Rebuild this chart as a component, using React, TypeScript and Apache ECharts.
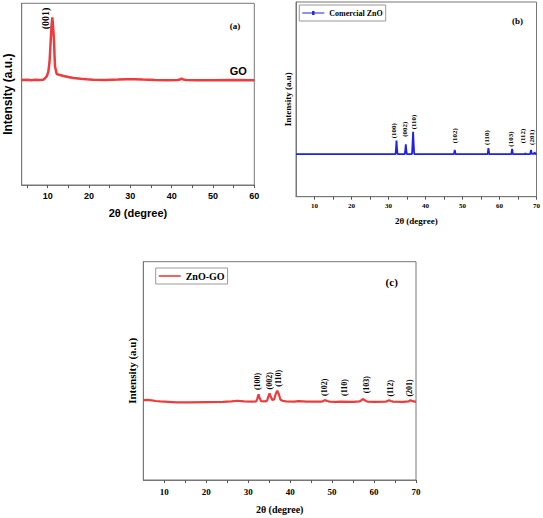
import React, { useEffect, useRef } from "react";
import * as echarts from "echarts";

// ---------- data ----------
const goData: [number, number][] = [
  [3.7, 57.8], [5, 57.9], [6, 57.7], [7, 57.9], [8, 57.8], [8.9, 57.9], [9.35, 58.7], [9.8, 60.0],
  [10.15, 62.4], [10.45, 68], [10.73, 79.8], [10.95, 88.5], [11.11, 92.3], [11.3, 87], [11.52, 79.8],
  [11.65, 71], [11.77, 65.1], [12.18, 61.1], [13.0, 60.5], [13.78, 60.0], [15, 59.4], [16.2, 58.9],
  [18, 58.5], [19.4, 58.2], [21, 57.9], [24, 57.8], [27, 58.0], [29, 58.2], [31, 58.2], [33, 58.0],
  [36, 57.8], [39, 57.7], [41.5, 57.8], [42.1, 58.2], [42.4, 58.5], [42.8, 58.1], [43.5, 57.8],
  [46, 57.7], [50, 57.7], [55, 57.8], [60, 57.7],
];

const znoData: [number, number][] = [
  [5, 21.9], [31.9, 21.9], [32.05, 25.0], [32.16, 28.8], [32.3, 24.5], [32.45, 21.9],
  [34.4, 21.9], [34.55, 24.2], [34.68, 26.9], [34.8, 24.0], [34.95, 21.9],
  [36.35, 21.9], [36.5, 27.0], [36.65, 33.4], [36.8, 27.0], [36.95, 21.9],
  [47.7, 21.9], [47.82, 23.2], [47.9, 24.0], [48.0, 23.2], [48.1, 21.9],
  [56.8, 21.9], [56.92, 23.8], [57.0, 24.9], [57.1, 23.8], [57.2, 21.9],
  [63.2, 21.9], [63.32, 23.6], [63.4, 24.5], [63.5, 23.6], [63.6, 21.9],
  [66.9, 21.9], [67.0, 22.4], [67.1, 21.9],
  [68.3, 21.9], [68.42, 23.3], [68.5, 24.0], [68.6, 23.3], [68.75, 22.0],
  [69.35, 22.0], [69.45, 22.8], [69.5, 23.0], [69.6, 22.7], [69.75, 21.9], [70, 21.9],
];

const znoGoData: [number, number][] = [
  [5, 36.6], [6, 36.7], [7, 36.5], [8, 36.2], [9, 36.0], [11, 35.8], [13, 35.6], [16, 35.6],
  [20, 35.7], [24, 35.8], [26, 36.0], [27.5, 36.3], [29, 36.0], [31, 35.9], [31.9, 36.0],
  [32.2, 37.4], [32.47, 39.3], [32.75, 37.4], [33.1, 36.1], [34.0, 36.0], [34.5, 36.3],
  [34.8, 38.2], [35.1, 39.7], [35.4, 38.0], [35.8, 36.6], [36.2, 37.0], [36.6, 39.6],
  [36.94, 40.9], [37.3, 39.3], [37.7, 36.8], [38.2, 36.3], [39, 36.0], [41, 35.9], [42, 36.1],
  [44, 35.9], [47.6, 35.9], [48.0, 36.3], [48.4, 36.6], [48.8, 36.2], [49.4, 35.9], [51, 35.8],
  [52, 35.9], [55, 35.8], [56.6, 36.0], [57.0, 36.6], [57.4, 37.1], [57.8, 36.5], [58.4, 35.9],
  [60, 35.8], [62.8, 35.9], [63.2, 36.2], [63.6, 36.5], [64.0, 36.2], [64.5, 35.9], [67, 35.8],
  [68.2, 36.0], [68.7, 36.5], [69.2, 36.1], [70, 35.8],
];

// peak annotations (label anchor = bottom of the rotated text)
const aPeakNames = ["(001)"];
const aPeakX = [9.5];
const aPeakY = [85.7];

const bPeakNames = ["(100)", "(002)", "(110)", "(102)", "(110)", "(103)", "(112)", "(201)"];
const bPeakX = [31.5, 34.4, 36.9, 47.9, 56.6, 63.1, 66.4, 68.9];
const bPeakY = [30.0, 30.8, 34.6, 27.4, 26.6, 25.7, 27.4, 26.6];

const cPeakNames = ["(100)", "(002)", "(110)", "(102)", "(110)", "(103)", "(112)", "(201)"];
const cPeakX = [32.3, 35.1, 37.3, 48.25, 52.9, 58.2, 64.0, 68.4];
const cPeakY = [41.2, 41.5, 42.7, 38.5, 38.5, 39.7, 38.2, 38.2];

// ticks
const aTickLabels = [10, 20, 30, 40, 50, 60];
const aTicks = [5, 10, 15, 20, 25, 30, 35, 40, 45, 50, 55, 60];
const bcTickLabels = [10, 20, 30, 40, 50, 60, 70];
const bcTicks = [10, 15, 20, 25, 30, 35, 40, 45, 50, 55, 60, 65, 70];

const SANS = "Liberation Sans";
const SERIF = "Liberation Serif";
const RED = "#ee3b3b";
const BLUE = "#1f22e6";
const AXIS = "#777";

const LINE_ICON = "path://M0,0 L22,0 L22,1.6 L0,1.6 Z";
const DOT_LINE_ICON =
  "path://M0,1.3 L9.8,1.3 L9.8,0 L12.2,0 L12.2,1.3 L22,1.3 L22,2.5 L12.2,2.5 L12.2,3.8 L9.8,3.8 L9.8,2.5 L0,2.5 Z";

function xAxisFor(
  gridIndex: number, min: number, max: number, labels: number[], ticks: number[],
  font: string, labelSize: number, nameSize: number, nameGap: number, margin: number
) {
  return {
    type: "value", gridIndex, min, max,
    name: "2θ (degree)", nameLocation: "middle", nameGap,
    nameTextStyle: { fontFamily: font, fontWeight: "bold", fontSize: nameSize, color: "#000" },
    axisLine: { show: true, onZero: false, lineStyle: { color: AXIS, width: 1 } },
    axisTick: { show: true, length: 3, customValues: ticks, lineStyle: { color: "#555" } },
    axisLabel: { customValues: labels, margin, fontFamily: font, fontWeight: "bold", fontSize: labelSize, color: "#000" },
    splitLine: { show: false },
  };
}

function yAxisFor(gridIndex: number, name: string, font: string, nameSize: number, nameGap: number) {
  return {
    type: "value", gridIndex, min: 0, max: 100,
    name, nameLocation: "middle", nameGap, nameRotate: 90,
    nameTextStyle: { fontFamily: font, fontWeight: "bold", fontSize: nameSize, color: "#000" },
    axisLine: { show: true, lineStyle: { color: AXIS, width: 1 } },
    axisTick: { show: false }, axisLabel: { show: false }, splitLine: { show: false },
  };
}

function peakLabels(idx: number, names: string[], xs: number[], ys: number[], size: number) {
  return {
    type: "custom", xAxisIndex: idx, yAxisIndex: idx, silent: true,
    data: names.map((n, i) => [xs[i], ys[i]]),
    renderItem: (params: any, api: any) => {
      const p = api.coord([api.value(0), api.value(1)]);
      return {
        type: "text", x: p[0], y: p[1], rotation: Math.PI / 2,
        style: {
          text: names[params.dataIndex], font: `bold ${size}px "${SERIF}"`, fill: "#000",
          align: "left", verticalAlign: "middle",
        },
      };
    },
  };
}

function textEl(text: string, x: number, y: number, font: string) {
  return {
    type: "text", x, y, silent: true,
    style: { text, font, fill: "#000", align: "center", verticalAlign: "middle", textAlign: "center", textVerticalAlign: "middle" },
  };
}

export default function App() {
  const ref = useRef<HTMLDivElement>(null);
  useEffect(() => {
    if (!ref.current) return;
    const chart = echarts.init(ref.current, null, { renderer: "svg" });
    const gridBase = { show: true, borderColor: AXIS, borderWidth: 1, backgroundColor: "transparent", containLabel: false };
    chart.setOption({
      animation: false,
      backgroundColor: "#fff",
      grid: [
        { ...gridBase, left: 21.7, top: 3.3, width: 232.6, height: 181.7 },
        { ...gridBase, left: 296, top: 2, width: 240.7, height: 194.7 },
        { ...gridBase, left: 143.3, top: 261.7, width: 272.7, height: 218.3 },
      ],
      xAxis: [
        xAxisFor(0, 3.7, 60, aTickLabels, aTicks, SANS, 9, 11, 22, 6),
        xAxisFor(1, 5, 70, bcTickLabels, bcTicks, SERIF, 7, 9, 20, 6),
        xAxisFor(2, 5, 70, bcTickLabels, bcTicks, SERIF, 9, 10, 24, 7),
      ],
      yAxis: [
        yAxisFor(0, "Intensity (a.u.)", SANS, 12, 8),
        yAxisFor(1, "Intensity (a.u)", SERIF, 9, 4),
        yAxisFor(2, "Intensity (a.u)", SERIF, 11, 6),
      ],
      legend: [
        {
          data: [{ name: "Comercial ZnO", icon: DOT_LINE_ICON }], left: 299.3, top: 5, padding: [4, 3],
          itemWidth: 22, itemHeight: 4, borderColor: "#999", borderWidth: 1,
          textStyle: { fontFamily: SERIF, fontWeight: "bold", fontSize: 8, color: "#000" },
        },
        {
          data: [{ name: "ZnO-GO", icon: LINE_ICON }], left: 155.7, top: 268, padding: [3, 3],
          itemWidth: 22, itemHeight: 2, borderColor: "#999", borderWidth: 1,
          textStyle: { fontFamily: SERIF, fontWeight: "bold", fontSize: 10, color: "#000" },
        },
      ],
      series: [
        {
          type: "line", name: "GO", xAxisIndex: 0, yAxisIndex: 0, data: goData, symbol: "none", showSymbol: false,
          lineStyle: { color: RED, width: 2.5 }, itemStyle: { color: RED },
        },
        {
          type: "line", name: "Comercial ZnO", xAxisIndex: 1, yAxisIndex: 1, data: znoData, symbol: "none",
          showSymbol: false, lineStyle: { color: BLUE, width: 1.8 }, itemStyle: { color: BLUE },
        },
        {
          type: "line", name: "ZnO-GO", xAxisIndex: 2, yAxisIndex: 2, data: znoGoData, symbol: "none", showSymbol: false,
          lineStyle: { color: RED, width: 2.2 }, itemStyle: { color: RED },
        },
        peakLabels(0, aPeakNames, aPeakX, aPeakY, 10),
        peakLabels(1, bPeakNames, bPeakX, bPeakY, 7),
        peakLabels(2, cPeakNames, cPeakX, cPeakY, 8),
      ],
      graphic: [
        textEl("(a)", 235, 26, `bold 9px "${SERIF}"`),
        textEl("GO", 238.3, 70.5, `bold 11px "${SANS}"`),
        textEl("(b)", 517.5, 20.7, `bold 9px "${SERIF}"`),
        textEl("(c)", 391.7, 281.5, `bold 11px "${SERIF}"`),
      ],
    });
    return () => chart.dispose();
  }, []);
  return <div ref={ref} style={{ position: "fixed", left: 0, top: 0, width: 543, height: 518 }} />;
}
